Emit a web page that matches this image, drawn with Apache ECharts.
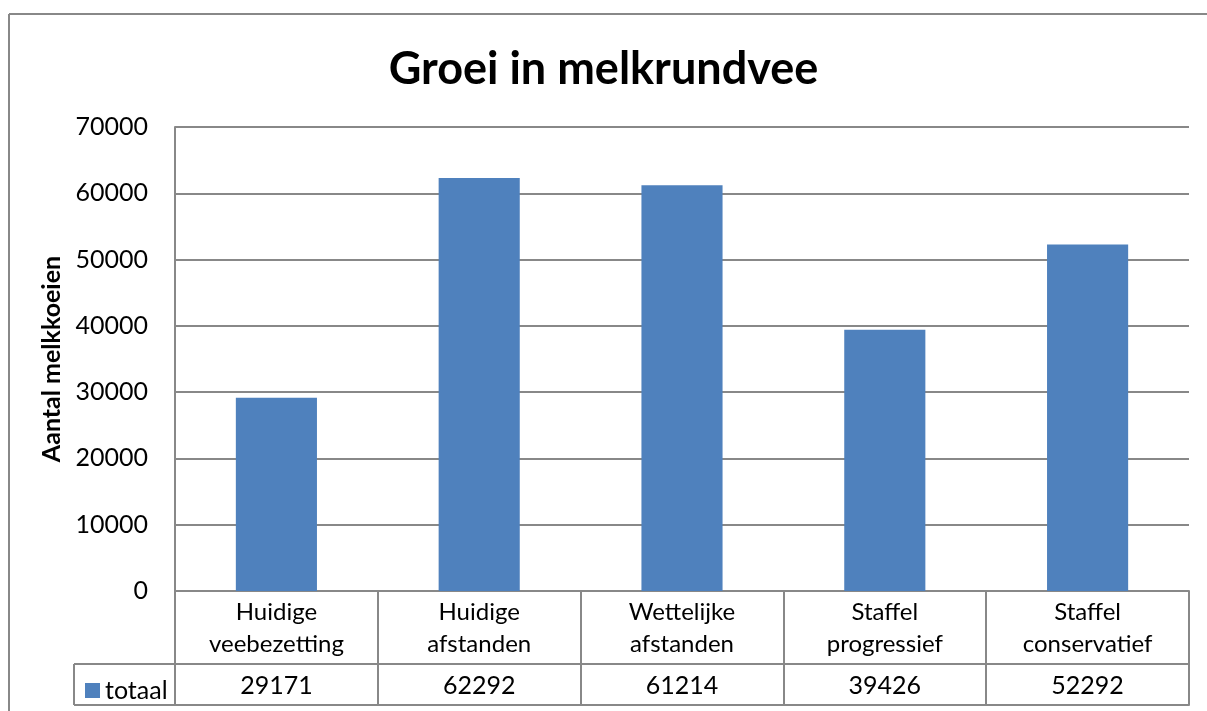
<!DOCTYPE html>
<html><head><meta charset="utf-8">
<script src="https://cdn.jsdelivr.net/npm/echarts@6/dist/echarts.min.js"></script>
<style>html,body{margin:0;padding:0;background:#fff;overflow:hidden}#c{width:1207px;height:711px}</style>
</head><body><div id="c"></div>
<script>
const categories = ['Huidige veebezetting', 'Huidige afstanden', 'Wettelijke afstanden', 'Staffel progressief', 'Staffel conservatief'];
const seriesName = 'totaal';
const values = [29171, 62292, 61214, 39426, 52292];
const yTicks = [0, 10000, 20000, 30000, 40000, 50000, 60000, 70000];

const FONT = 'Lato';
const chart = echarts.init(document.getElementById('c'));
const gridLeft = 175, gridRight = 18, gridTop = 127, gridBottom = 120;
chart.setOption({
  animation: false,
  textStyle: { fontFamily: FONT },
  title: {
    text: 'Groei in melkrundvee', left: 'center', top: 42,
    textStyle: { fontFamily: FONT, fontSize: 45, fontWeight: 'bold', color: '#000' }
  },
  legend: {
    data: [seriesName], left: 80, top: 673, icon: 'rect', itemWidth: 15, itemHeight: 15, itemGap: 6,
    textStyle: { fontFamily: FONT, fontSize: 25, color: '#000' }
  },
  grid: { left: gridLeft, right: gridRight, top: gridTop, bottom: gridBottom },
  xAxis: [
    {
      type: 'category', data: categories, position: 'bottom',
      axisLine: { show: true, lineStyle: { color: '#888', width: 2 } },
      axisTick: { show: true, length: 114, lineStyle: { color: '#888', width: 2 } },
      axisLabel: {
        margin: 5, fontSize: 24, color: '#000', lineHeight: 32, fontFamily: FONT,
        formatter: v => v.replace(' ', '\n')
      }
    },
    {
      type: 'category', data: values.map(String), position: 'bottom', offset: 73,
      axisLine: { show: true, lineStyle: { color: '#888', width: 2 } },
      axisTick: { show: false },
      axisLabel: { margin: 9, fontSize: 25, color: '#000', fontFamily: FONT }
    },
    {
      type: 'category', data: categories, position: 'bottom', offset: 114,
      axisLine: { show: true, lineStyle: { color: '#888', width: 2 } },
      axisTick: { show: false }, axisLabel: { show: false }
    }
  ],
  yAxis: {
    type: 'value', min: yTicks[0], max: yTicks[yTicks.length - 1], interval: 10000,
    name: 'Aantal melkkoeien', nameLocation: 'middle', nameGap: 98, nameRotate: 90,
    nameTextStyle: { fontFamily: FONT, fontSize: 25, fontWeight: 'bold', color: '#000' },
    axisLine: { show: true, lineStyle: { color: '#888', width: 2 } },
    axisTick: { show: false },
    axisLabel: { margin: 27, fontSize: 25, color: '#000', fontFamily: FONT, formatter: v => String(v) },
    splitLine: { show: true, lineStyle: { color: '#888', width: 2 } }
  },
  series: [{
    name: seriesName, type: 'bar', data: values, barCategoryGap: '60%',
    itemStyle: { color: '#4F81BD' }
  }],
  graphic: [
    { type: 'line', shape: { x1: 9, y1: 14, x2: 1250, y2: 14 }, style: { stroke: '#888', lineWidth: 2 }, silent: true },
    { type: 'line', shape: { x1: 9, y1: 14, x2: 9, y2: 760 }, style: { stroke: '#888', lineWidth: 2 }, silent: true },
    { type: 'line', shape: { x1: 74, y1: 664, x2: 175, y2: 664 }, style: { stroke: '#888', lineWidth: 2 }, silent: true },
    { type: 'line', shape: { x1: 74, y1: 705, x2: 175, y2: 705 }, style: { stroke: '#888', lineWidth: 2 }, silent: true },
    { type: 'line', shape: { x1: 74, y1: 664, x2: 74, y2: 705 }, style: { stroke: '#888', lineWidth: 2 }, silent: true }
  ]
});
</script></body></html>
